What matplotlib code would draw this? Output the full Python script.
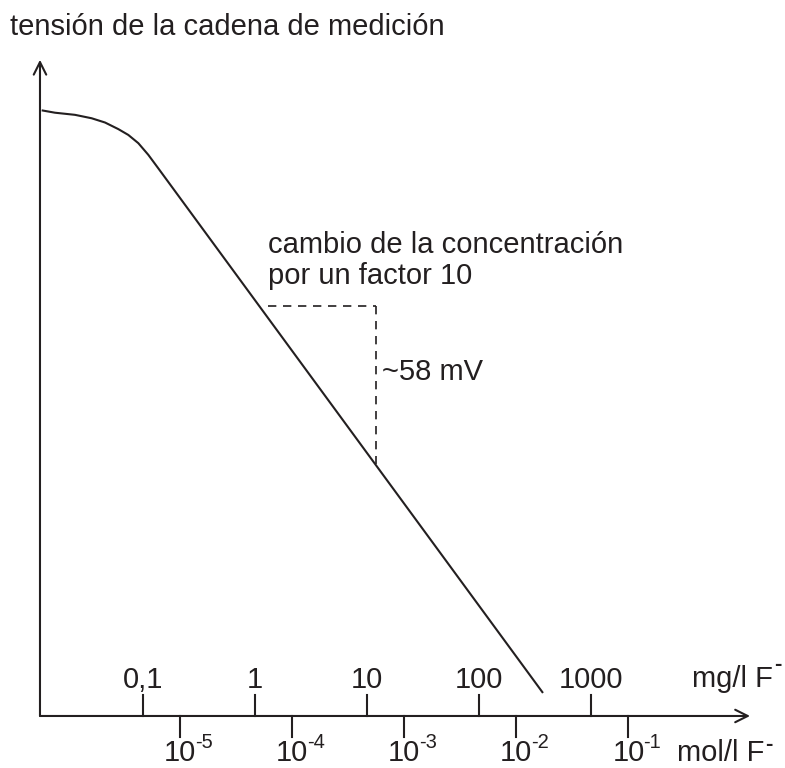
import math
import matplotlib
matplotlib.use("Agg")
import matplotlib.pyplot as plt

plt.rcParams['font.family'] = ['Liberation Sans', 'DejaVu Sans']

# ---- data (x: log10 of concentration in mol/l F-, y: cell voltage in mV) ----
curve_logc = [-6.234, -6.115, -5.937, -5.788, -5.669, -5.550, -5.461, -5.372,
              -5.283, -5.194, -1.762]
curve_mv   = [228.9, 228.0, 227.2, 225.9, 224.3, 221.8, 219.6, 216.5,
              212.1, 207.0, 8.7]

mol_exponents = [-5, -4, -3, -2, -1]
mg_labels = ['0,1', '1', '10', '100', '1000']
mg_values = [0.1, 1, 10, 100, 1000]
mg_to_logmol = -4.33   # offset between log10(mg/l) and log10(mol/l) as drawn

step_logc = [-4.215, -3.252]   # horizontal dashed segment (start, end)
step_mv = [155.1, 95.3]        # vertical dashed segment (top, bottom)

mg_logc = [math.log10(v) + mg_to_logmol for v in mg_values]

# ---- figure ----
W, H = 785, 768
fig = plt.figure(figsize=(W / 100, H / 100), dpi=100)
ax = fig.add_axes([0, 0, 1, 1])
ax.set_xlim(-6.6057, 0.3970)
ax.set_ylim(-19.66, 270.6)
ax.axis('off')

col = '#231f20'
lw = 1.5
fs = 21
fs_sup = 14.5

x0 = -6.249   # y-axis position
arrow = dict(arrowstyle='->,head_length=0.9,head_width=0.45', color=col, lw=lw,
             shrinkA=0, shrinkB=0)
ax.annotate('', xy=(0.085, 0), xytext=(x0, 0), arrowprops=arrow)
ax.annotate('', xy=(x0, 248.0), xytext=(x0, 0), arrowprops=arrow)

# curve
ax.plot(curve_logc, curve_mv, color=col, lw=lw, solid_joinstyle='round',
        solid_capstyle='butt')

# dashed step
ax.plot([step_logc[0], step_logc[1]], [step_mv[0], step_mv[0]], color=col, lw=1.2,
        ls=(0, (5, 4)))
ax.plot([step_logc[1], step_logc[1]], [step_mv[0], step_mv[1]], color=col, lw=1.2,
        ls=(0, (5, 4)))

# mg/l ticks (above)
for xl, lab in zip(mg_logc, mg_labels):
    ax.plot([xl, xl], [0, 7.94], color=col, lw=lw)
    ax.text(xl, 10.6, lab, ha='center', va='baseline', fontsize=fs, color=col)

# mol/l ticks (below)
for e in mol_exponents:
    ax.plot([e, e], [0, -7.94], color=col, lw=lw)
    ax.text(e, -17.0, '10', ha='center', va='baseline', fontsize=fs, color=col)
    ax.text(e + 0.134, -12.1, '-%d' % abs(e), ha='left', va='baseline',
            fontsize=fs_sup, color=col)

t_mg = ax.text(-0.433, 11.0, 'mg/l F', ha='left', va='baseline', fontsize=fs, color=col)
t_mol = ax.text(-0.566, -17.0, 'mol/l F', ha='left', va='baseline', fontsize=fs, color=col)
renderer = fig.canvas.get_renderer()
inv = ax.transData.inverted()
for t, ybase in ((t_mg, 17.2), (t_mol, -13.0)):
    bb = t.get_window_extent(renderer)
    xr = inv.transform((bb.x1 + 1, bb.y0))[0]
    ax.text(xr, ybase, '-', ha='left', va='baseline', fontsize=16, color=col,
            fontweight='bold')

# labels
ax.text(-6.516, 257.4, 'tensión de la cadena de medición', ha='left', va='baseline',
        fontsize=fs, color=col)
ax.text(-4.215, 175.0, 'cambio de la concentración', ha='left', va='baseline',
        fontsize=fs, color=col)
ax.text(-4.215, 163.3, 'por un factor 10', ha='left', va='baseline', fontsize=fs, color=col)
ax.text(-3.198, 127.0, '~58 mV', ha='left', va='baseline', fontsize=fs, color=col)

fig.savefig('out.png', dpi=100, facecolor='white')
